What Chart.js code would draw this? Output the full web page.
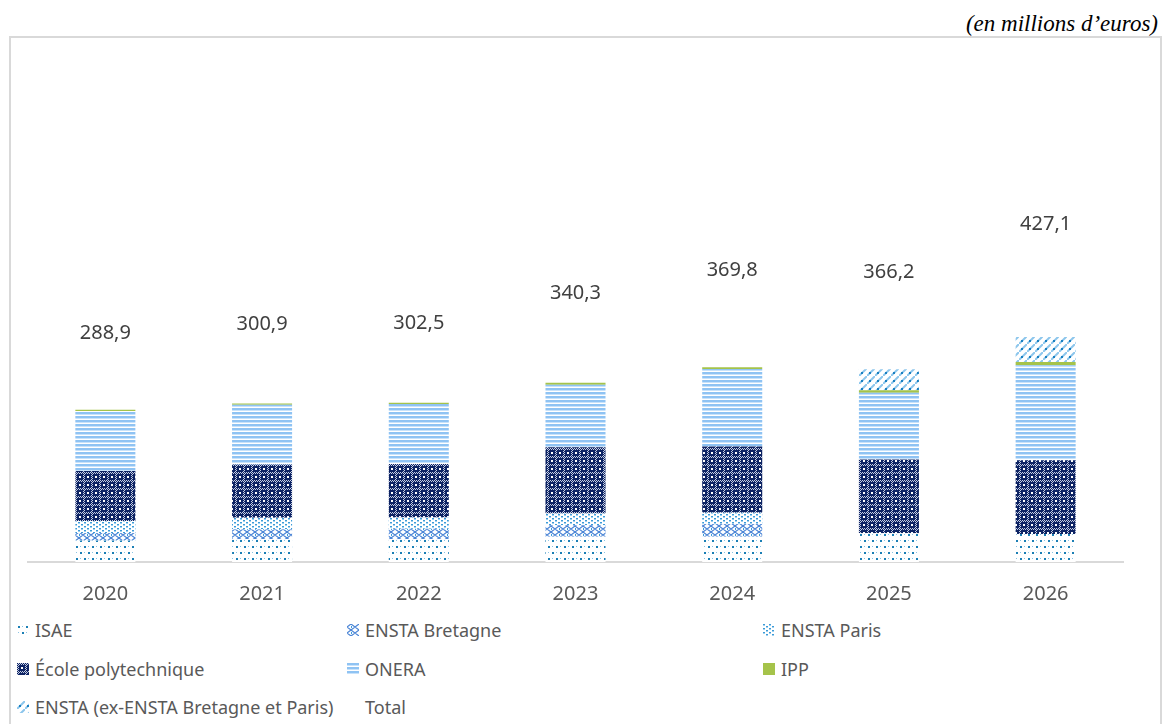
<!DOCTYPE html>
<html lang="fr">
<head>
<meta charset="UTF-8">
<title>Subventions pour charges de service public</title>
<script src="https://cdn.jsdelivr.net/npm/chart.js"></script>
<style>
  body { margin: 0; background: #fff; font-family: "Noto Sans", sans-serif; }
  #unit {
    position: absolute; right: 4px; top: 11px;
    font-family: "Liberation Serif", "DejaVu Serif", serif;
    font-style: italic; font-size: 23px; color: #000;
  }
  #frame {
    position: absolute; left: 9px; top: 36px; width: 1149px; height: 700px;
    border: 2px solid #d9d9d9; border-bottom: none;
  }
  #wrap { position: absolute; left: 27px; top: 88px; width: 1097px; height: 530px; }
  .item {
    position: absolute; display: flex; align-items: center; height: 24px;
    font-size: 18px; color: #595959; white-space: nowrap;
  }
  .item canvas { margin-right: 6px; }
</style>
</head>
<body>
<div id="unit">(en millions d’euros)</div>
<div id="frame"></div>
<div id="wrap"><canvas id="chart"></canvas></div>
<div id="legend"></div>

<script>
  const years = ['2020', '2021', '2022', '2023', '2024', '2025', '2026'];
  const isae = [41, 43, 43, 48, 48, 54.5, 53.4];
  const enstaBretagne = [14, 19, 20, 22, 24, 0, 0];
  const enstaParis = [23, 22, 21.5, 22, 21.5, 0, 0];
  const polytechnique = [95, 101, 101.5, 126, 126, 140, 140];
  const onera = [113.9, 113.4, 114, 118.5, 146.8, 127, 180];
  const ipp = [2, 2.5, 2.5, 3.8, 3.5, 4.5, 6.3];
  const enstaNew = [0, 0, 0, 0, 0, 40.2, 47.4];
  const totals = [288.9, 300.9, 302.5, 340.3, 369.8, 366.2, 427.1];

  // small tiles turned into canvas patterns
  function tile(w, h, draw) {
    const c = document.createElement('canvas');
    c.width = w; c.height = h;
    const g = c.getContext('2d');
    g.fillStyle = '#fff';
    g.fillRect(0, 0, w, h);
    draw(g);
    return g.createPattern(c, 'repeat');
  }

  const patIsae = tile(8, 12, g => {
    g.fillStyle = '#1b7fb5';
    g.fillRect(1, 2, 2, 2);
    g.fillRect(5, 8, 2, 2);
    g.fillStyle = '#8cc4e4';
    g.fillRect(5, 2, 1, 1);
    g.fillRect(1, 8, 1, 1);
  });
  const patBretagne = tile(8, 6, g => {
    g.strokeStyle = '#4d86d6';
    g.lineWidth = 1.2;
    g.beginPath();
    g.moveTo(0, 3); g.lineTo(4, 0); g.lineTo(8, 3); g.lineTo(4, 6); g.closePath();
    g.stroke();
    g.fillStyle = '#3c9bd8';
    g.fillRect(4, 2, 1, 2);
  });
  const patParis = tile(6, 4, g => {
    g.fillStyle = '#3c9bd8';
    g.fillRect(0, 0, 2, 1);
    g.fillRect(3, 2, 2, 1);
    g.fillStyle = '#9fd0ee';
    g.fillRect(0, 1, 2, 1);
    g.fillRect(3, 3, 2, 1);
  });
  const patPoly = tile(8, 8, g => {
    g.fillStyle = '#0e2464';
    g.fillRect(0, 0, 8, 8);
    g.fillStyle = '#c5cde2';
    for (let x = 0; x < 8; x++) {
      for (let y = 0; y < 8; y++) {
        if ((x + y) % 2 === 1 && (x < 2 || y < 2)) g.fillRect(x, y, 1, 1);
      }
    }
    g.fillStyle = '#fff';
    g.fillRect(4, 4, 2, 2);
  });
  const patOnera = tile(4, 4, g => {
    g.fillStyle = '#8fc3f3';
    g.fillRect(0, 0, 4, 2);
    g.fillStyle = '#c8e2fa';
    g.fillRect(0, 2, 4, 1);
  });
  const patEnsta = tile(8, 8, g => {
    g.strokeStyle = '#8cc6ec';
    g.lineWidth = 2;
    g.beginPath();
    g.moveTo(-1, 9); g.lineTo(9, -1);
    g.stroke();
    g.fillStyle = '#1a80c0';
    g.fillRect(2, 4, 2, 2);
  });

  const datasets = [
    { label: 'ISAE', data: isae, backgroundColor: patIsae },
    { label: 'ENSTA Bretagne', data: enstaBretagne, backgroundColor: patBretagne },
    { label: 'ENSTA Paris', data: enstaParis, backgroundColor: patParis },
    { label: 'École polytechnique', data: polytechnique, backgroundColor: patPoly },
    { label: 'ONERA', data: onera, backgroundColor: patOnera },
    { label: 'IPP', data: ipp, backgroundColor: '#a5c34a' },
    { label: 'ENSTA (ex-ENSTA Bretagne et Paris)', data: enstaNew, backgroundColor: patEnsta },
    { label: 'Total', data: totals, backgroundColor: 'rgba(0,0,0,0)' }
  ];

  // total value written in the middle of the invisible "Total" segment
  const totalLabels = {
    id: 'totalLabels',
    afterDatasetsDraw(chart) {
      const meta = chart.getDatasetMeta(chart.data.datasets.length - 1);
      const ctx = chart.ctx;
      ctx.save();
      ctx.font = '20px "Noto Sans"';
      ctx.fillStyle = '#404040';
      ctx.textAlign = 'center';
      ctx.textBaseline = 'middle';
      meta.data.forEach((bar, i) => {
        const p = bar.getCenterPoint();
        ctx.fillText(totals[i].toFixed(1).replace('.', ','), p.x, p.y);
      });
      ctx.restore();
    }
  };

  const chart = new Chart(document.getElementById('chart'), {
    type: 'bar',
    data: { labels: years, datasets: datasets },
    options: {
      responsive: true,
      maintainAspectRatio: false,
      animation: false,
      datasets: { bar: { categoryPercentage: 1, barPercentage: 0.383, borderWidth: 0 } },
      plugins: { legend: { display: false }, tooltip: { enabled: false } },
      layout: { padding: 0 },
      scales: {
        x: {
          stacked: true,
          grid: { display: false },
          border: { display: true, color: '#d9d9d9', width: 2 },
          ticks: { color: '#595959', font: { family: 'Noto Sans', size: 20 }, padding: 12 }
        },
        y: { stacked: true, display: false, min: 0, max: 900 }
      }
    },
    plugins: [totalLabels]
  });

  // legend in three fixed columns
  const cols = [17, 347, 763];
  const rows = [630, 668.5, 707];
  const legend = document.getElementById('legend');
  datasets.forEach((ds, i) => {
    const item = document.createElement('div');
    item.className = 'item';
    item.style.left = cols[i % 3] + 'px';
    item.style.top = (rows[Math.floor(i / 3)] - 12) + 'px';
    const sw = document.createElement('canvas');
    sw.width = 12; sw.height = 12;
    const g = sw.getContext('2d');
    g.fillStyle = ds.backgroundColor;
    g.fillRect(0, 0, 12, 12);
    item.appendChild(sw);
    item.appendChild(document.createTextNode(ds.label));
    legend.appendChild(item);
  });
</script>
</body>
</html>
